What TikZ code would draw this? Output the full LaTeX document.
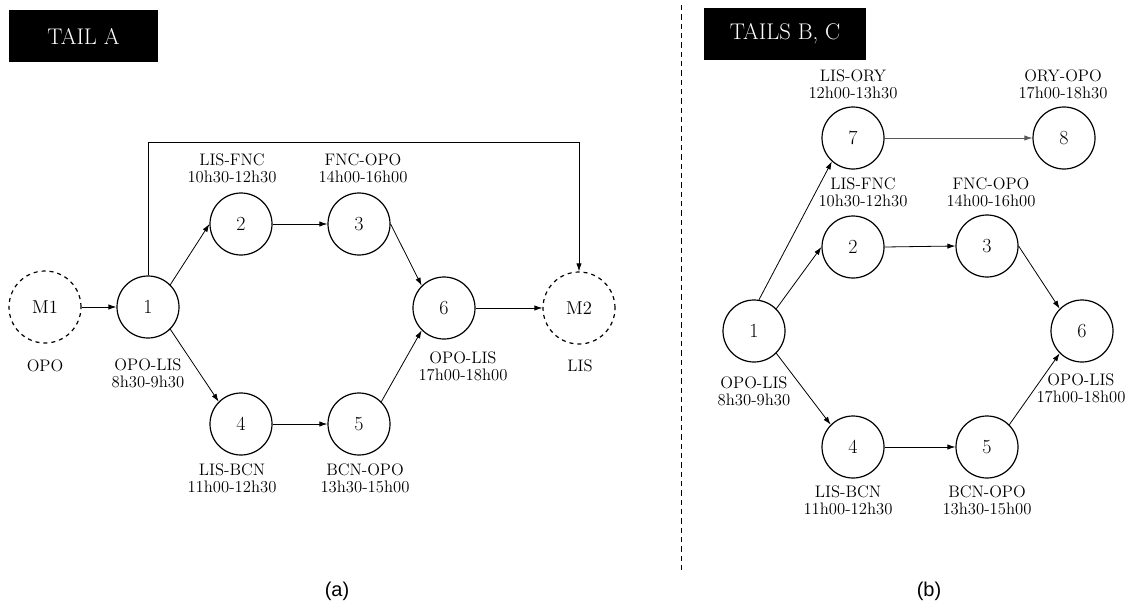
\documentclass[tikz,border=0pt]{standalone}
\usepackage{fontspec}
\newfontfamily\panelfont{Liberation Sans}
\usetikzlibrary{arrows.meta}

\begin{document}
\begin{tikzpicture}[x=0.75pt, y=-0.75pt, >={Latex[length=6pt,width=4pt]}, semithick,
    flight/.style={circle, draw, line width=0.9pt, inner sep=0pt, minimum size=46.5pt, font=\fontsize{15}{18}\selectfont},
    base/.style={circle, draw, line width=0.9pt, dashed, inner sep=0pt, minimum size=54pt, font=\fontsize{14}{16}\selectfont},
    info/.style={align=center, inner sep=0pt, font=\fontsize{12.5}{13}\selectfont},
    tag/.style={fill=black, text=white, inner sep=0pt, minimum height=39pt, font=\fontsize{17}{20}\selectfont}]
    \useasboundingbox (0,0) rectangle (1130,603);

    % Panel (a): nodes
    \node[tag, minimum width=111.75pt] (tagA) at (83.5,36) {TAIL A};
    \node[base] (m1) at (45,307) {M1};
    \node[flight] (a1) at (148,307) {1};
    \node[flight] (a2) at (241,224) {2};
    \node[flight] (a3) at (359,224) {3};
    \node[flight] (a4) at (241,424) {4};
    \node[flight] (a5) at (359,424) {5};
    \node[flight] (a6) at (444,308) {6};
    \node[base] (m2) at (579,308) {M2};

    \node[info] (opo) at (45,366) {OPO};
    \node[info] (la1) at (148,373) {OPO-LIS\\8h30-9h30};
    \node[info] (la2) at (232,168.5) {LIS-FNC\\10h30-12h30};
    \node[info] (la3) at (363,168.5) {FNC-OPO\\14h00-16h00};
    \node[info] (la4) at (232,478) {LIS-BCN\\11h00-12h30};
    \node[info] (la5) at (365,478) {BCN-OPO\\13h30-15h00};
    \node[info] (la6) at (463,366) {OPO-LIS\\17h00-18h00};
    \node[info] (lis) at (580,366) {LIS};

    % Panel (a): arrows
    \draw[->] (m1.east) -- (a1.west);
    \draw[->] (a1.north east) -- (a2.west);
    \draw[->] (a1.south east) -- (a4.north west);
    \draw[->] (a2.east) -- (a3.west);
    \draw[->] (a4.east) -- (a5.west);
    \draw[->] (a3.east) -- (a6.north west);
    \draw[->] (a5.north east) -- (a6.south west);
    \draw[->] (a6.east) -- (m2.west);
    \coordinate (over) at (579,142);
    \draw[->] (a1.north) |- (over) -- (m2.north);

    % Divider
    \coordinate (cut1) at (681,5);
    \coordinate (cut2) at (681,572);
    \draw[thin, dash pattern=on 4pt off 3pt] (cut1) -- (cut2);

    % Panel (b): nodes
    \node[tag, minimum width=121.5pt] (tagB) at (785,34) {TAILS B, C};
    \node[flight] (b1) at (754,331) {1};
    \node[flight] (b2) at (853,247) {2};
    \node[flight] (b3) at (987,246) {3};
    \node[flight] (b4) at (853,447) {4};
    \node[flight] (b5) at (987,447) {5};
    \node[flight] (b6) at (1082,331) {6};
    \node[flight] (b7) at (853,138) {7};
    \node[flight] (b8) at (1064,138) {8};

    \node[info] (lb7) at (853,84) {LIS-ORY\\12h00-13h30};
    \node[info] (lb8) at (1063,84) {ORY-OPO\\17h00-18h30};
    \node[info] (lb2) at (863,192) {LIS-FNC\\10h30-12h30};
    \node[info] (lb3) at (991,192) {FNC-OPO\\14h00-16h00};
    \node[info] (lb1) at (754,391) {OPO-LIS\\8h30-9h30};
    \node[info] (lb6) at (1081,388) {OPO-LIS\\17h00-18h00};
    \node[info] (lb4) at (848,500) {LIS-BCN\\11h00-12h30};
    \node[info] (lb5) at (987,500) {BCN-OPO\\13h30-15h00};

    % Panel (b): arrows
    \draw[->] (b1.81) -- (b7.228);
    \draw[->] (b1.north east) -- (b2.west);
    \draw[->] (b1.south east) -- (b4.north west);
    \draw[->] (b2.east) -- (b3.west);
    \draw[->] (b4.east) -- (b5.west);
    \draw[->] (b3.east) -- (b6.north west);
    \draw[->] (b5.north east) -- (b6.south west);
    \draw[->, black!65] (b7.east) -- (b8.west);

    % Captions
    \node[font=\panelfont\fontsize{15}{17}\selectfont] (capA) at (337,591) {(a)};
    \node[font=\panelfont\fontsize{15}{17}\selectfont] (capB) at (929,591) {(b)};
\end{tikzpicture}
\end{document}
